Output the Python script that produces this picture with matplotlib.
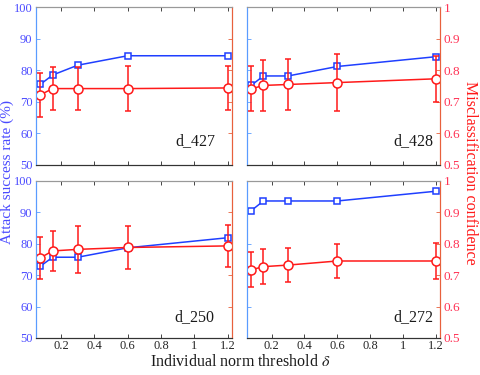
import matplotlib
matplotlib.use("Agg")
import matplotlib.pyplot as plt

plt.rcParams['font.family'] = ['Liberation Serif', 'DejaVu Serif']
plt.rcParams['mathtext.fontset'] = 'stix'

# data
thresholds = [0.075, 0.15, 0.3, 0.6, 1.2]
names = ['d_427', 'd_428', 'd_250', 'd_272']

asr_427 = [75.5, 78.5, 81.6, 84.6, 84.6]
asr_428 = [75.2, 78.2, 78.2, 81.2, 84.3]
asr_250 = [72.8, 75.7, 75.7, 78.7, 81.9]
asr_272 = [90.5, 93.6, 93.6, 93.6, 96.7]

conf_427 = [0.722, 0.742, 0.742, 0.742, 0.744]
conf_428 = [0.741, 0.752, 0.755, 0.761, 0.773]
conf_250 = [0.755, 0.777, 0.782, 0.788, 0.793]
conf_272 = [0.717, 0.727, 0.732, 0.745, 0.745]

err_427 = [0.069, 0.068, 0.068, 0.070, 0.070]
err_428 = [0.071, 0.080, 0.081, 0.090, 0.073]
err_250 = [0.067, 0.065, 0.074, 0.068, 0.067]
err_272 = [0.056, 0.055, 0.055, 0.053, 0.058]

asr_all = [asr_427, asr_428, asr_250, asr_272]
conf_all = [conf_427, conf_428, conf_250, conf_272]
err_all = [err_427, err_428, err_250, err_272]

blue = '#1f3fff'
blue_txt = '#4a4aff'
blue_spine = '#5a9cff'
red = '#ff1a1a'
red_txt = '#ff3355'
red_spine = '#e8603c'

fig = plt.figure(figsize=(4.8, 3.75), dpi=100)
positions = [
    [0.075, 0.56, 0.408, 0.421],
    [0.5146, 0.56, 0.402, 0.421],
    [0.075, 0.0987, 0.408, 0.419],
    [0.5146, 0.0987, 0.402, 0.419],
]
label_x = [0.915, 0.964, 0.913, 0.964]
label_y = [0.15, 0.15, 0.134, 0.134]

for i in range(4):
    ax = fig.add_axes(positions[i])
    ax2 = ax.twinx()
    ax.plot(thresholds, asr_all[i], '-s', color=blue, lw=1.1, ms=5,
            mfc='white', mec=blue, mew=1.1, zorder=3)
    ax2.errorbar(thresholds, conf_all[i], yerr=err_all[i], fmt='-o', color=red,
                 lw=1.1, ms=6.5, mfc='white', mec=red, mew=1.1, capsize=2,
                 elinewidth=1.1, capthick=1.1)
    ax.set_xlim(0.05, 1.225)
    ax.set_ylim(50, 100)
    ax2.set_ylim(0.5, 1)
    ax.set_xticks([0.2, 0.4, 0.6, 0.8, 1.0, 1.2])
    ax.set_yticks([50, 60, 70, 80, 90, 100])
    ax2.set_yticks([0.5, 0.6, 0.7, 0.8, 0.9, 1.0])
    ax2.set_yticklabels(['0.5', '0.6', '0.7', '0.8', '0.9', '1'])
    if i >= 2:
        ax.set_xticklabels(['0.2', '0.4', '0.6', '0.8', '1', '1.2'])
    else:
        ax.set_xticklabels([])
    ax.tick_params(axis='x', direction='in', top=True, length=3, width=0.6,
                   labelsize=9, pad=1.5, colors='#262626')
    ax.tick_params(axis='y', direction='in', length=3, width=0.6,
                   colors=blue_spine, labelcolor=blue_txt, labelsize=9,
                   pad=2.5, labelleft=(i % 2 == 0))
    ax2.tick_params(axis='y', direction='in', length=3, width=0.6,
                    colors=red_spine, labelcolor=red_txt, labelsize=9.5,
                    pad=2.5, labelright=(i % 2 == 1))
    for a in (ax, ax2):
        a.spines['top'].set_color('#999999')
        a.spines['bottom'].set_color('#333333')
        a.spines['left'].set_color(blue_spine)
        a.spines['right'].set_color(red_spine)
        for s in a.spines.values():
            s.set_linewidth(0.8)
    ax2.text(label_x[i], label_y[i], names[i], transform=ax.transAxes,
             ha='right', va='center', fontsize=11.5, color='#1a1a1a')

fig.text(0.016, 0.54, 'Attack success rate (%)', rotation=90, color=blue_txt,
         fontsize=11, ha='center', va='center')
fig.text(0.98, 0.54, 'Misclassification confidence', rotation=270, color=red,
         fontsize=11.5, ha='center', va='center')
fig.text(0.5, 0.012, r'Individual norm threshold $\delta$', fontsize=11.5,
         ha='center', va='bottom', color='#1a1a1a')

fig.savefig('out.png', dpi=100)
